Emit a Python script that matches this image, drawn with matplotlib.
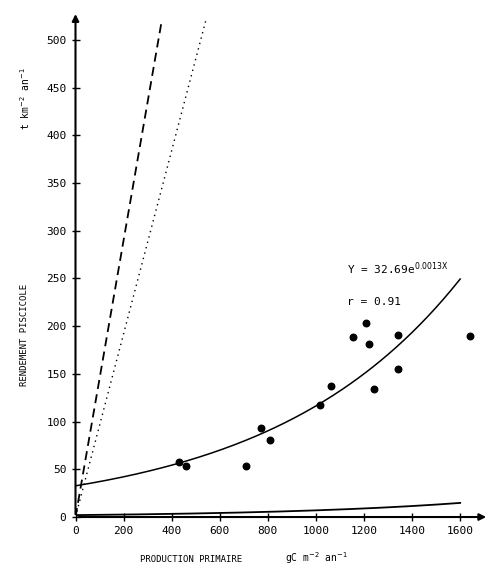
import numpy as np
import matplotlib
matplotlib.use("Agg")
import matplotlib.pyplot as plt

px = [429, 458, 710, 770, 807, 1018, 1062, 1154, 1209, 1220, 1240, 1341, 1341, 1641]
py = [58, 53, 53, 93, 81, 117, 137, 189, 203, 181, 134, 191, 155, 190]
xticks = [0, 200, 400, 600, 800, 1000, 1200, 1400, 1600]
yticks = [0, 50, 100, 150, 200, 250, 300, 350, 400, 450, 500]
fit_a, fit_b = 32.69, 0.00127
low_a, low_b = 2.0, 0.00125
dash_slope = 1.45
dot_slope = 0.96

fig = plt.figure(figsize=(5.0, 5.78), dpi=100)
ax = fig.add_axes([0.151, 0.1055, 0.827, 0.875])
ax.set_xlim(0, 1720)
ax.set_ylim(0, 530)
for s in ax.spines.values():
    s.set_visible(False)
ax.annotate("", xy=(1720, 0), xytext=(0, 0), arrowprops=dict(arrowstyle="-|>", color="black", lw=1.5))
ax.annotate("", xy=(0, 530), xytext=(0, 0), arrowprops=dict(arrowstyle="-|>", color="black", lw=1.5))
ax.set_xticks(xticks)
ax.set_yticks(yticks)
ax.tick_params(direction="inout", length=6, width=1, labelsize=8)
for lab in ax.get_xticklabels() + ax.get_yticklabels():
    lab.set_family("DejaVu Sans Mono")

xs = np.linspace(0, 1600, 200)
ax.plot(xs, fit_a * np.exp(fit_b * xs), color="black", lw=1.1)
ax.plot(xs, low_a * np.exp(low_b * xs), color="black", lw=1.3)
xd = np.linspace(0, 520 / dash_slope, 50)
ax.plot(xd, dash_slope * xd, color="black", lw=1.3, ls=(0, (5, 3)))
xo = np.linspace(0, 520 / dot_slope, 50)
ax.plot(xo, dot_slope * xo, color="black", lw=1.0, ls=(0, (1, 3)))
ax.scatter(px, py, s=22, color="black", zorder=3)

ax.text(1130, 255, r"Y = 32.69e$^{\mathrm{0.0013X}}$", fontsize=8, family="DejaVu Sans Mono")
ax.text(1130, 222, "r = 0.91", fontsize=8, family="DejaVu Sans Mono")
fig.text(0.05, 0.42, "RENDEMENT PISCICOLE", rotation=90, fontsize=6.5, family="DejaVu Sans Mono", ha="center", va="center")
fig.text(0.05, 0.83, "t km$^{-2}$ an$^{-1}$", rotation=90, fontsize=7, family="DejaVu Sans Mono", ha="center", va="center")
fig.text(0.28, 0.028, "PRODUCTION PRIMAIRE", fontsize=6.5, family="DejaVu Sans Mono")
fig.text(0.57, 0.028, "gC m$^{-2}$ an$^{-1}$", fontsize=7, family="DejaVu Sans Mono")
fig.savefig("out.png", dpi=100)
